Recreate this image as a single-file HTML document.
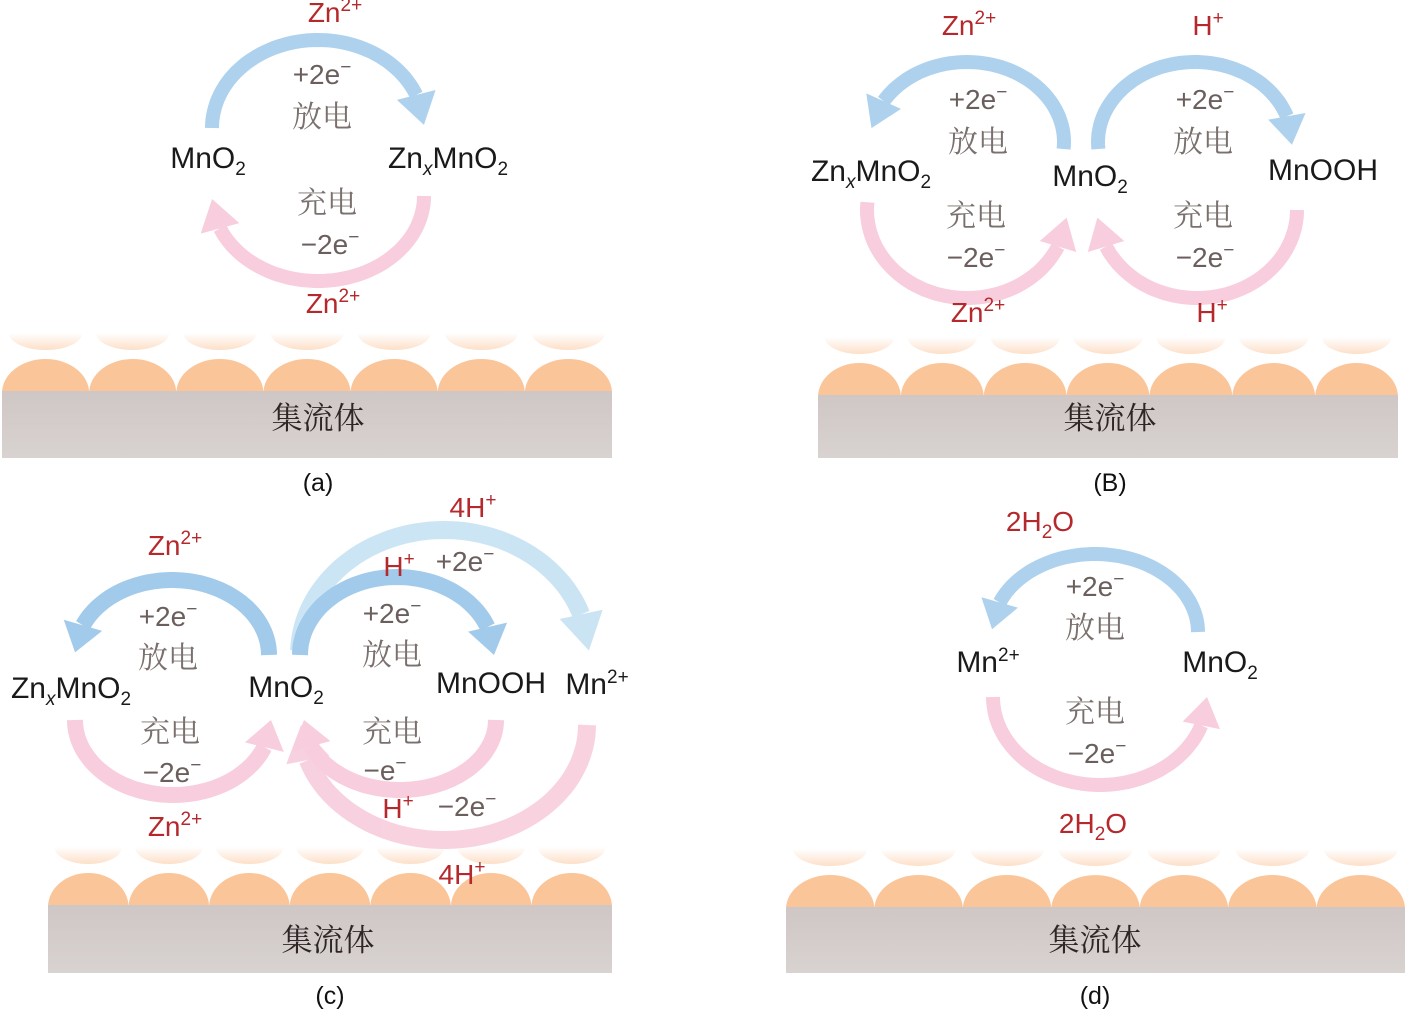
<!DOCTYPE html>
<html><head><meta charset="utf-8">
<style>
html,body{margin:0;padding:0;background:#fff;}
svg{display:block;}
.sp{font-family:"Liberation Sans","Noto Sans CJK SC",sans-serif;font-size:30px;fill:#1a1a1a;text-anchor:middle;}
.ion{font-family:"Liberation Sans",sans-serif;font-size:28px;fill:#b5282c;text-anchor:middle;}
.e{font-family:"Liberation Sans",sans-serif;font-size:28px;fill:#6a5f5c;text-anchor:middle;}
.cn{font-family:"Noto Serif CJK SC","Noto Sans CJK SC",serif;font-size:30px;fill:#7a706d;text-anchor:middle;}
.sub{font-family:"Noto Serif CJK SC","Noto Sans CJK SC",serif;font-size:31px;fill:#2e2626;text-anchor:middle;}
.lb{font-family:"Liberation Sans",sans-serif;font-size:25px;fill:#111;text-anchor:middle;}
.s{font-size:19px;}
</style></head><body>
<svg id="s" width="1407" height="1013" viewBox="0 0 1407 1013" xmlns="http://www.w3.org/2000/svg">
<defs>
<linearGradient id="fd" x1="0" y1="0" x2="0" y2="1"><stop offset="0" stop-color="#fbc59a" stop-opacity="0"/><stop offset="1" stop-color="#fbc59a" stop-opacity="0.55"/></linearGradient>
<linearGradient id="gr" x1="0" y1="0" x2="0" y2="1"><stop offset="0" stop-color="#cfc7c5"/><stop offset="1" stop-color="#d8d2d1"/></linearGradient>
</defs>
<g id="subs"></g>
<g id="arrows"></g>
<g id="txt">
<!-- (a) -->
<text class="ion" x="335" y="22">Zn<tspan class="s" dy="-11">2+</tspan></text>
<text class="e" x="322" y="84">+2e<tspan class="s" dy="-11">−</tspan></text>
<text class="cn" x="322" y="127">放电</text>
<text class="sp" x="208" y="168">MnO<tspan class="s" dy="7">2</tspan></text>
<text class="sp" x="448" y="168">Zn<tspan class="s" font-style="italic" dy="7">x</tspan><tspan dy="-7">MnO</tspan><tspan class="s" dy="7">2</tspan></text>
<text class="cn" x="327" y="213">充电</text>
<text class="e" x="330" y="254">−2e<tspan class="s" dy="-11">−</tspan></text>
<text class="ion" x="333" y="313">Zn<tspan class="s" dy="-11">2+</tspan></text>
<text class="sub" x="318" y="429">集流体</text>
<text class="lb" x="318" y="491">(a)</text>
<!-- (B) -->
<text class="ion" x="969" y="35">Zn<tspan class="s" dy="-11">2+</tspan></text>
<text class="ion" x="1208" y="35">H<tspan class="s" dy="-11">+</tspan></text>
<text class="e" x="978" y="109">+2e<tspan class="s" dy="-11">−</tspan></text>
<text class="cn" x="978" y="152">放电</text>
<text class="e" x="1205" y="109">+2e<tspan class="s" dy="-11">−</tspan></text>
<text class="cn" x="1203" y="152">放电</text>
<text class="sp" x="871" y="181">Zn<tspan class="s" font-style="italic" dy="7">x</tspan><tspan dy="-7">MnO</tspan><tspan class="s" dy="7">2</tspan></text>
<text class="sp" x="1090" y="186">MnO<tspan class="s" dy="7">2</tspan></text>
<text class="sp" x="1323" y="180">MnOOH</text>
<text class="cn" x="976" y="226">充电</text>
<text class="e" x="976" y="267">−2e<tspan class="s" dy="-11">−</tspan></text>
<text class="cn" x="1203" y="226">充电</text>
<text class="e" x="1205" y="267">−2e<tspan class="s" dy="-11">−</tspan></text>
<text class="ion" x="978" y="322">Zn<tspan class="s" dy="-11">2+</tspan></text>
<text class="ion" x="1212" y="322">H<tspan class="s" dy="-11">+</tspan></text>
<text class="sub" x="1110" y="429">集流体</text>
<text class="lb" x="1110" y="491">(B)</text>
<!-- (c) -->
<text class="ion" x="175" y="555">Zn<tspan class="s" dy="-11">2+</tspan></text>
<text class="ion" x="473" y="517">4H<tspan class="s" dy="-11">+</tspan></text>
<text class="ion" x="399" y="576">H<tspan class="s" dy="-11">+</tspan></text>
<text class="e" x="465" y="571">+2e<tspan class="s" dy="-11">−</tspan></text>
<text class="e" x="168" y="626">+2e<tspan class="s" dy="-11">−</tspan></text>
<text class="cn" x="168" y="668">放电</text>
<text class="e" x="392" y="623">+2e<tspan class="s" dy="-11">−</tspan></text>
<text class="cn" x="392" y="665">放电</text>
<text class="sp" x="71" y="698">Zn<tspan class="s" font-style="italic" dy="7">x</tspan><tspan dy="-7">MnO</tspan><tspan class="s" dy="7">2</tspan></text>
<text class="sp" x="286" y="697">MnO<tspan class="s" dy="7">2</tspan></text>
<text class="sp" x="491" y="693">MnOOH</text>
<text class="sp" x="597" y="694">Mn<tspan class="s" dy="-11">2+</tspan></text>
<text class="cn" x="170" y="742">充电</text>
<text class="e" x="172" y="782">−2e<tspan class="s" dy="-11">−</tspan></text>
<text class="cn" x="392" y="742">充电</text>
<text class="e" x="385" y="780">−e<tspan class="s" dy="-11">−</tspan></text>
<text class="ion" x="398" y="818">H<tspan class="s" dy="-11">+</tspan></text>
<text class="e" x="467" y="816">−2e<tspan class="s" dy="-11">−</tspan></text>
<text class="ion" x="175" y="836">Zn<tspan class="s" dy="-11">2+</tspan></text>
<text class="ion" x="462" y="884">4H<tspan class="s" dy="-11">+</tspan></text>
<text class="sub" x="328" y="951">集流体</text>
<text class="lb" x="330" y="1004">(c)</text>
<!-- (d) -->
<text class="ion" x="1040" y="531">2H<tspan class="s" dy="7">2</tspan><tspan dy="-7">O</tspan></text>
<text class="e" x="1095" y="596">+2e<tspan class="s" dy="-11">−</tspan></text>
<text class="cn" x="1095" y="638">放电</text>
<text class="sp" x="988" y="672">Mn<tspan class="s" dy="-11">2+</tspan></text>
<text class="sp" x="1220" y="672">MnO<tspan class="s" dy="7">2</tspan></text>
<text class="cn" x="1095" y="722">充电</text>
<text class="e" x="1097" y="763">−2e<tspan class="s" dy="-11">−</tspan></text>
<text class="ion" x="1093" y="833">2H<tspan class="s" dy="7">2</tspan><tspan dy="-7">O</tspan></text>
<text class="sub" x="1095" y="951">集流体</text>
<text class="lb" x="1095" y="1004">(d)</text>
</g>
</svg>
<script>
var NS="http://www.w3.org/2000/svg";
function el(p,t,a){var e=document.createElementNS(NS,t);for(var k in a)e.setAttribute(k,a[k]);p.appendChild(e);return e;}
var AR=document.getElementById("arrows"),SB=document.getElementById("subs");
function P(cx,cy,rx,ry,a){a=a*Math.PI/180;return [cx+rx*Math.cos(a),cy+ry*Math.sin(a)];}
function arrow(cx,cy,rx,ry,a0,a1,w,hl,hw,col,op){
 var sg=a1>a0?1:-1, r=(rx+ry)/2, d=hl/r*180/Math.PI, ab=a1-sg*d;
 var pts=[],n=60;for(var i=0;i<=n;i++){var a=a0+(ab-a0)*i/n;pts.push(P(cx,cy,rx,ry,a));}
 var g=el(AR,"g",{opacity:op||1});
 el(g,"path",{d:"M"+pts.map(function(p){return p[0].toFixed(1)+","+p[1].toFixed(1)}).join(" L"),fill:"none",stroke:col,"stroke-width":w});
 var b=P(cx,cy,rx,ry,ab),t=P(cx,cy,rx,ry,a1),dx=t[0]-b[0],dy=t[1]-b[1],L=Math.hypot(dx,dy);
 var nx=-dy/L*hw/2,ny=dx/L*hw/2;
 el(g,"polygon",{points:[b[0]+nx,b[1]+ny,t[0],t[1],b[0]-nx,b[1]-ny].join(","),fill:col});
}
var B="#aed2ee",K="#f8cddd",LB="#c6e2f3";
// (a)
arrow(318,128,106,88,180,358,14,34,40,B);
arrow(318,196,106,85,0,178,14,34,40,K);
// (B)
arrow(967,142,97,80,365,190,14,32,38,B);
arrow(1195,142,97,80,175,362,14,32,38,B);
arrow(967,210,100,88,185,5,14,32,38,K);
arrow(1197,210,100,88,0,175,14,32,38,K);
// (c)
arrow(444,655,145,125,182,358,18,40,44,LB,0.9);
arrow(172,655,97,75,360,182,16,32,40,"#a2cbeb");
arrow(397,655,97,78,180,360,16,32,40,"#a2cbeb");
arrow(444,725,143,115,0,180,18,40,44,K,0.9);
arrow(173,720,98,75,180,0,16,32,40,K);
arrow(400,720,96,70,0,180,16,32,40,K);
// (d)
arrow(1095,632,103,78,360,182,14,32,38,B);
arrow(1100,697,107,88,180,0,14,32,38,K);
function sub(x0,x1,top,bot,nb){
 var w=(x1-x0)/nb;
 for(var i=0;i<nb;i++){var cx=x0+w*(i+0.5);
  el(SB,"path",{d:"M"+(cx-w*0.42)+","+(top-24)+" A"+(w*0.42)+",17 0 0 0 "+(cx+w*0.42)+","+(top-24)+" Z",fill:"url(#fd)"});
  el(SB,"path",{d:"M"+(cx-w/2)+","+(top+36)+" A"+(w/2)+",34 0 0 1 "+(cx+w/2)+","+(top+36)+" Z",fill:"#fbc59a"});
 }
 el(SB,"rect",{x:x0,y:top+34,width:x1-x0,height:bot-top-34,fill:"url(#gr)"});
}
sub(2,612,357,458,7);
sub(818,1398,361,458,7);
sub(48,612,871,973,7);
sub(786,1405,873,973,7);
</script>
</body></html>
